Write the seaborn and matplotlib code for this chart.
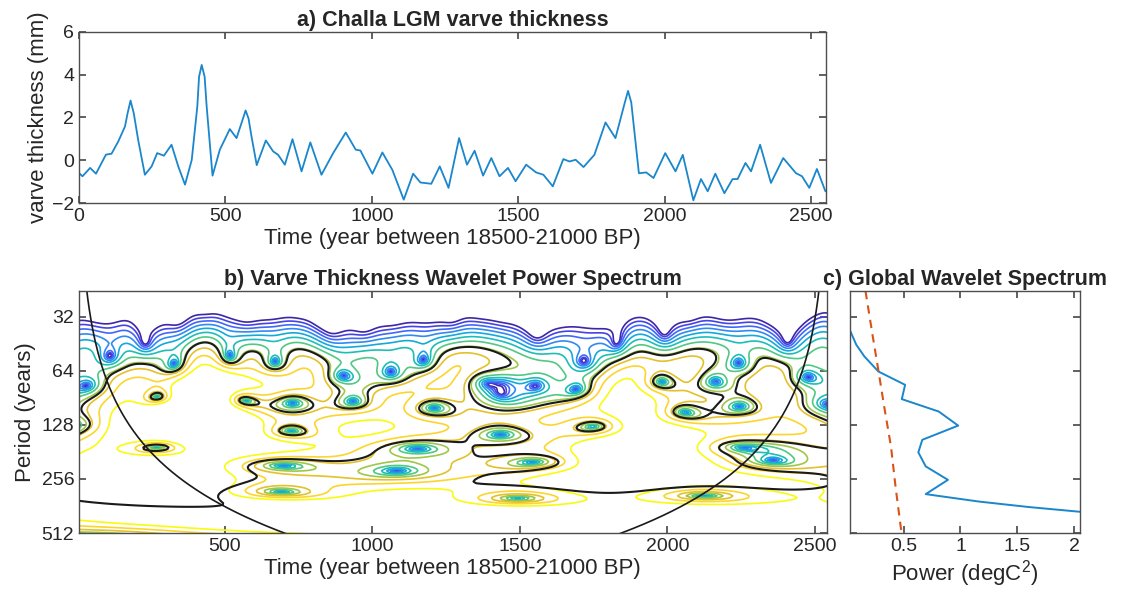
import numpy as np
import pandas as pd
import matplotlib
matplotlib.use("Agg")
import matplotlib.pyplot as plt
import seaborn as sns
from matplotlib.colors import LinearSegmentedColormap
from matplotlib.ticker import FixedLocator, FixedFormatter, NullLocator

# ---------------- data ----------------
time_pts = np.array([0, 12, 38, 58, 92, 111, 134, 157, 166, 176, 187, 202, 225, 248, 267, 290,
                     316, 339, 362, 385, 404, 410, 419, 429, 436, 456, 481, 515, 538, 560, 569,
                     579, 589, 607, 638, 663, 680,
                     703, 729, 760, 790, 828, 868, 911, 945, 961, 1002, 1036, 1070, 1109, 1141,
                     1166, 1203, 1232, 1262, 1298, 1325, 1351, 1380, 1408, 1436, 1465, 1491,
                     1527, 1561, 1586, 1618, 1654, 1675, 1696, 1723, 1760, 1798, 1832, 1864,
                     1875, 1886,
                     1912, 1937, 1962, 2002, 2037, 2062, 2098, 2124, 2147, 2173, 2204, 2232,
                     2249, 2276, 2295, 2326, 2363, 2405, 2448, 2469, 2494, 2520, 2549])
thick_pts = np.array([-0.59, -0.74, -0.35, -0.62, 0.27, 0.31, 0.88, 1.58, 2.2, 2.79, 2.2, 0.96,
                      -0.67, -0.28, 0.34, 0.22, 0.73, -0.28, -1.13, 0.02, 2.51, 3.9, 4.45, 3.9,
                      2.51, -0.71, 0.5, 1.46, 1.04, 1.95, 2.33, 1.95, 1.12, -0.22, 0.93, 0.42,
                      0.26, -0.2, 0.99, -0.51,
                      0.84, -0.67, 0.34, 1.3, 0.5, 0.46, -0.62, 0.37, -0.44, -1.83, -0.62,
                      -1.03, -1.09, -0.28, -1.28, 1.04, -0.2, 0.45, -0.71, 0.11, -0.74, -0.35,
                      -0.97, -0.2, -0.56, -0.67, -1.21, 0.06, -0.05, 0.03, -0.31, 0.26, 1.77,
                      1.04, 2.7, 3.24, 2.7, -0.6, -0.56, -0.82, 0.34, -0.51, 0.26, -1.86, -0.87,
                      -1.44, -0.62, -1.53, -0.87, -0.87, -0.12, -0.51, 0.73, -1.05, 0.11, -0.59,
                      -0.74, -1.28, -0.4, -1.44])

gws_period = np.array([38.1, 45.8, 53.3, 64.6, 76.6, 92.0, 107.9, 129.2, 155.0, 182.0, 218.0,
                       259.0, 311.0, 342.0, 367.0, 389.0, 420.0])
gws_power = np.array([0.03, 0.085, 0.157, 0.28, 0.514, 0.485, 0.81, 0.98, 0.665, 0.63, 0.695,
                      0.89, 0.695, 1.16, 1.6, 2.03, 2.6])

sig_period = np.array([23.0, 41.2, 64.0, 101.0, 169.0, 283.0, 481.0, 512.0])
sig_power = np.array([0.166, 0.23, 0.28, 0.33, 0.39, 0.43, 0.477, 0.485])

period_ticks = [32, 64, 128, 256, 512]
time_ticks = [0, 500, 1000, 1500, 2000, 2500]
power_ticks = [0.5, 1, 1.5, 2]

# ---------------- style ----------------
sns.set_theme(style="ticks")
plt.rcParams['font.family'] = ['Liberation Sans', 'DejaVu Sans']
plt.rcParams.update({
    'axes.edgecolor': '0.3', 'axes.linewidth': 1.0,
    'xtick.color': '0.3', 'ytick.color': '0.3',
    'xtick.labelcolor': '0.15', 'ytick.labelcolor': '0.15',
    'xtick.direction': 'in', 'ytick.direction': 'in',
    'xtick.major.size': 5, 'ytick.major.size': 5,
    'xtick.labelsize': 14, 'ytick.labelsize': 14,
    'axes.labelsize': 16, 'axes.labelcolor': '0.15',
    'mathtext.fontset': 'custom', 'mathtext.rm': 'Liberation Sans',
    'mathtext.it': 'Liberation Sans', 'mathtext.default': 'regular',
})

parula = LinearSegmentedColormap.from_list("parula", [
    (0.2422, 0.1504, 0.6603), (0.2803, 0.2782, 0.9221), (0.2440, 0.4358, 0.9988),
    (0.1540, 0.5902, 0.9218), (0.0297, 0.7082, 0.8163), (0.1938, 0.7758, 0.6251),
    (0.5044, 0.7993, 0.3480), (0.8634, 0.7406, 0.1596), (0.9892, 0.8136, 0.1885),
    (0.9763, 0.9831, 0.0538)])

W, H = 1126, 594
fig = plt.figure(figsize=(W / 100, H / 100), dpi=100)
ax_a = fig.add_axes([79 / W, 1 - 203.3 / H, (826 - 79) / W, (203.3 - 31.7) / H])
ax_b = fig.add_axes([79 / W, 1 - 533 / H, (826.7 - 79) / W, (533 - 291) / H])
ax_c = fig.add_axes([850 / W, 1 - 533 / H, (1080 - 850) / W, (533 - 291) / H])

line_blue = '#1a86cc'

# ---------------- panel a ----------------
df_a = pd.DataFrame({'time': time_pts, 'thick': thick_pts})
sns.lineplot(data=df_a, x='time', y='thick', ax=ax_a, color=line_blue, lw=1.3,
             estimator=None, sort=False)
ax_a.set_xlim(0, 2551)
ax_a.set_ylim(-2, 6)
ax_a.set_xticks(time_ticks)
ax_a.set_yticks([-2, 0, 2, 4, 6])
ax_a.set_xlabel('Time (year between 18500-21000 BP)', labelpad=2)
ax_a.set_ylabel('varve thickness (mm)', labelpad=2)
ax_a.set_title('a) Challa LGM varve thickness', fontsize=15.5, fontweight='bold', pad=4)

# ---------------- wavelet transform (Morlet) of the series ----------------
dt = 5.0
tg = np.arange(0, 2545 + dt / 2, dt)
x = np.interp(tg, time_pts, thick_pts)
x = x - x.mean()

n = len(x)
npad = int(2 ** np.ceil(np.log2(n))) * 2
fx = np.fft.fft(np.concatenate([x, np.zeros(npad - n)]))
k = 2 * np.pi * np.fft.fftfreq(npad, d=dt)
kc = 2 * np.pi / 48.0
fx = fx / (1 + (np.abs(k) / kc) ** 10)          # low-pass, as the smoothed varve record
w0 = 6.0
ffac = 4 * np.pi / (w0 + np.sqrt(2 + w0 ** 2))
periods = 2 ** np.linspace(np.log2(22), np.log2(540), 140)
power = np.empty((len(periods), n))
for i, p in enumerate(periods):
    s = p / ffac
    daughter = np.sqrt(2 * np.pi * s / dt) * np.pi ** -0.25 * np.exp(-0.5 * (s * k - w0) ** 2) * (k > 0)
    power[i] = np.abs(np.fft.ifft(fx * daughter)[:n]) ** 2

logp = np.log2(np.maximum(power, 1e-12))
lo = np.percentile(logp, 15)
hi = np.percentile(logp, 70)
levels = np.linspace(lo, hi, 11)
ax_b.contour(tg, periods, logp, levels=levels, cmap=parula, linewidths=1.2)

sig_interp = np.interp(np.log2(periods), np.log2(sig_period), sig_power)
local_sig = 1.6 * sig_interp * (1 + (periods / 225.0) ** 6)
ratio = power / local_sig[:, None]
ax_b.contour(tg, periods, ratio, levels=[1.0], colors='k', linewidths=1.5)

coi = ffac / np.sqrt(2) * np.minimum(tg - tg[0] + 1e-3, tg[-1] - tg + 1e-3)
ax_b.plot(tg, np.maximum(coi, 1.0), color='k', lw=1.2)

for ax in (ax_b, ax_c):
    ax.set_yscale('log', base=2)
    ax.set_ylim(512, 23)
    ax.yaxis.set_major_locator(FixedLocator(period_ticks))
    ax.yaxis.set_minor_locator(NullLocator())
ax_b.yaxis.set_major_formatter(FixedFormatter([str(p) for p in period_ticks]))
ax_c.yaxis.set_major_formatter(FixedFormatter([''] * len(period_ticks)))

ax_b.set_xlim(5, 2540)
ax_b.set_xticks(time_ticks[1:])
ax_b.set_xlabel('Time (year between 18500-21000 BP)', labelpad=2)
ax_b.set_ylabel('Period (years)', labelpad=4)
ax_b.set_title('b) Varve Thickness Wavelet Power Spectrum', fontsize=15.5, fontweight='bold', pad=4)

# ---------------- panel c ----------------
df_g = pd.DataFrame({'power': gws_power, 'period': gws_period})
df_s = pd.DataFrame({'power': sig_power, 'period': sig_period})
sns.lineplot(data=df_g, x='power', y='period', ax=ax_c, color=line_blue, lw=1.4,
             estimator=None, sort=False)
sns.lineplot(data=df_s, x='power', y='period', ax=ax_c, color='#D95319', lw=1.5,
             estimator=None, sort=False, linestyle=(0, (4, 3)))
ax_c.set_xlim(0.03, 2.05)
ax_c.set_xticks(power_ticks)
ax_c.set_xticklabels(['0.5', '1', '1.5', '2'])
ax_c.set_xlabel('Power (degC$^2$)', labelpad=2)
ax_c.set_ylabel('')
ax_c.set_title('c) Global Wavelet Spectrum', fontsize=15.5, fontweight='bold', pad=4)

for ax in (ax_a, ax_b, ax_c):
    ax.tick_params(which='both', top=True, right=True)
    for sp in ax.spines.values():
        sp.set_visible(True)

fig.savefig('out.png', dpi=100)
